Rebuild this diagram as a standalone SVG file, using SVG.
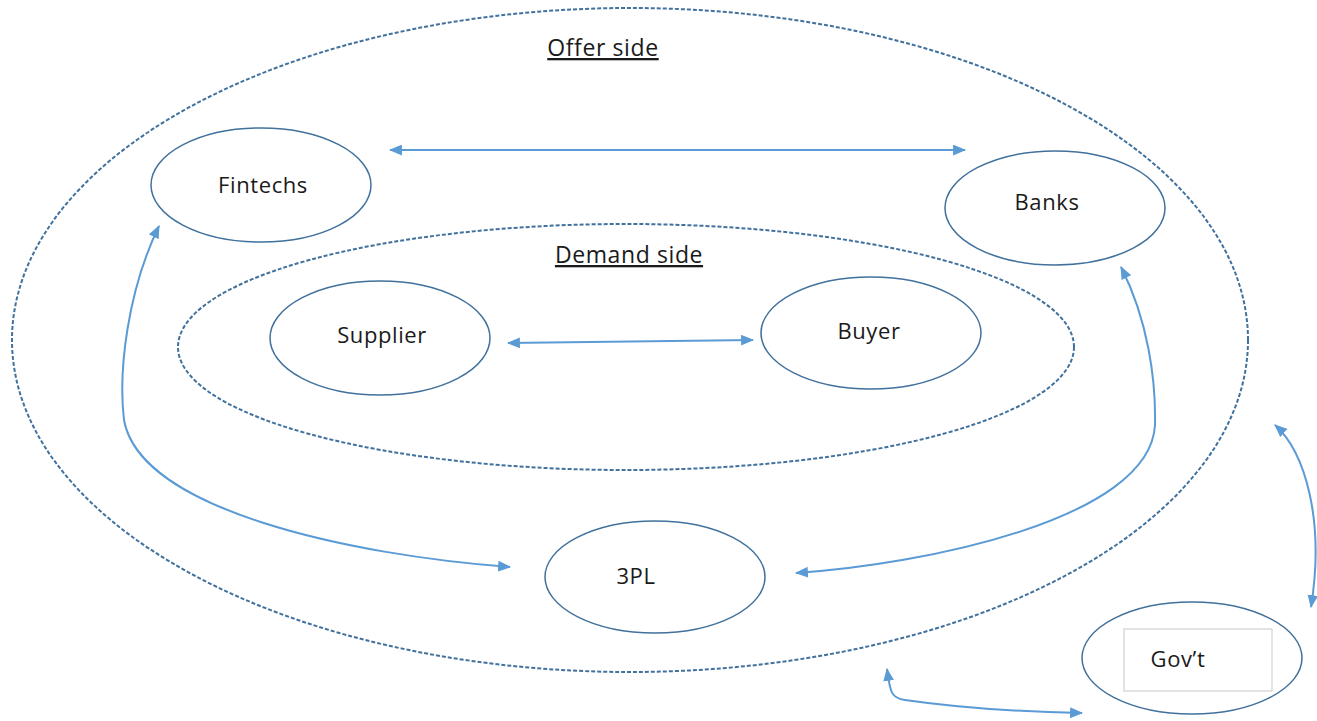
<svg xmlns="http://www.w3.org/2000/svg" width="1317" height="721" viewBox="0 0 1317 721">
<style>
.node{fill:#fff;stroke:#41719c;stroke-width:1.5}
.zone{fill:none;stroke:#41719c;stroke-width:2;stroke-dasharray:4 2}
.lbl{font-family:"Open Sans","Liberation Sans",sans-serif;font-size:22px;letter-spacing:0.6px;fill:#1a1a1a;text-anchor:middle}
.ttl{font-family:"Open Sans","Liberation Sans",sans-serif;font-size:23px;letter-spacing:0.6px;fill:#1a1a1a;text-anchor:middle;text-decoration:underline}
.con{fill:none;stroke:#5b9bd5;stroke-width:2;marker-start:url(#ah);marker-end:url(#ah)}
</style>
<defs>
<marker id="ah" viewBox="0 0 12 10" refX="11" refY="5" markerWidth="13" markerHeight="11" markerUnits="userSpaceOnUse" orient="auto-start-reverse">
<path d="M0,0 L12,5 L0,10 Z" fill="#5b9bd5"/>
</marker>
</defs>
<rect width="1317" height="721" fill="#fff"/>
<g id="offer-zone">
<ellipse class="zone" cx="630" cy="340" rx="618" ry="332"/>
<text class="ttl" x="603" y="56">Offer side</text>
</g>
<g id="demand-zone">
<ellipse class="zone" cx="626" cy="347" rx="448" ry="123"/>
<text class="ttl" x="629" y="263">Demand side</text>
</g>
<g id="fintechs">
<ellipse class="node" cx="261" cy="185" rx="110" ry="57"/>
<text class="lbl" x="263" y="193">Fintechs</text>
</g>
<g id="banks">
<ellipse class="node" cx="1055" cy="208" rx="110" ry="57"/>
<text class="lbl" x="1047" y="210">Banks</text>
</g>
<g id="supplier">
<ellipse class="node" cx="380" cy="338" rx="110" ry="57"/>
<text class="lbl" x="382" y="343">Supplier</text>
</g>
<g id="buyer">
<ellipse class="node" cx="871" cy="333" rx="110" ry="56"/>
<text class="lbl" x="869" y="339">Buyer</text>
</g>
<g id="tpl">
<ellipse class="node" cx="655" cy="577" rx="110" ry="56"/>
<text class="lbl" x="636" y="584">3PL</text>
</g>
<g id="govt">
<ellipse class="node" cx="1192" cy="658" rx="110" ry="56"/>
<rect x="1124" y="629" width="148" height="62" fill="#fff" stroke="#c8c8c8" stroke-width="1"/>
<text class="lbl" x="1178" y="667">Gov’t</text>
</g>
<g id="connectors">
<path class="con" d="M390,150 L965,150"/>
<path class="con" d="M508,343 L753,340"/>
<path class="con" d="M159,226 C128,290 118,370 124,420 C140,510 350,555 510,567"/>
<path class="con" d="M1121,267 C1148,320 1156,380 1155,425 C1150,520 920,565 796,573"/>
<path class="con" d="M1275,425 C1305,452 1325,520 1311,607"/>
<path class="con" d="M887,669 C890,690 890,698 905,700 C960,708 1030,712 1082,713"/>
</g>
</svg>
